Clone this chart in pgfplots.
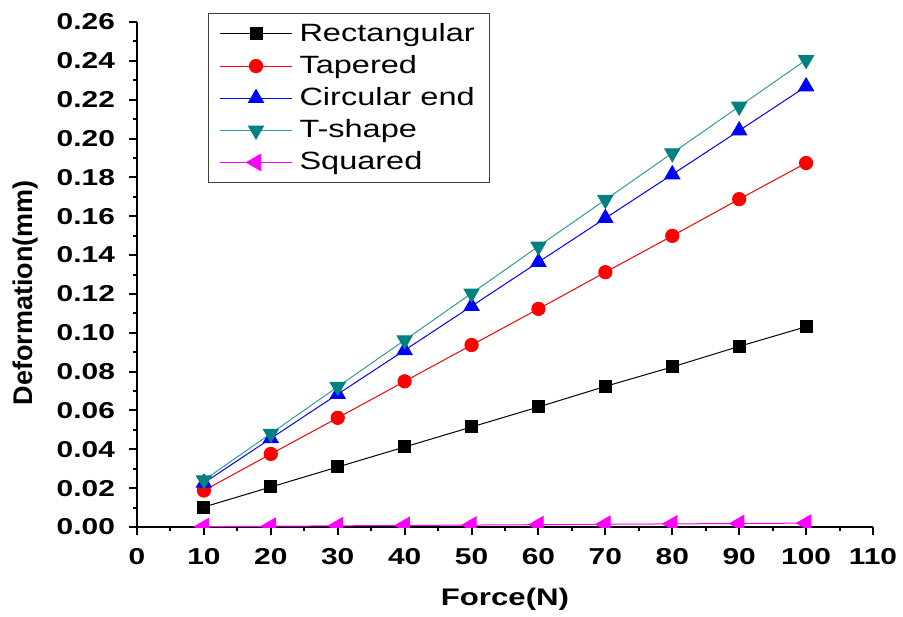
\documentclass[border=0pt]{standalone}
\usepackage{fontspec}
\setmainfont{Liberation Sans}[FakeStretch=1.3]
\newfontfamily\plainsans{Liberation Sans}
\usepackage{pgfplots}
\pgfplotsset{compat=1.18}

\definecolor{tealmk}{RGB}{0,128,128}
\definecolor{tealln}{RGB}{50,155,155}
\definecolor{magmk}{RGB}{255,0,255}

\begin{document}
\begin{tikzpicture}
\begin{axis}[
    name=ax,
    scale only axis,
    width=368pt, height=252.5pt,
    xmin=0, xmax=110, ymin=0, ymax=0.26,
    axis lines*=left,
    axis line style={line width=1pt},
    tick align=outside,
    major tick length=4pt, minor tick length=2pt,
    every tick/.style={black, line width=1pt},
    xtick={0,10,20,30,40,50,60,70,80,90,100,110},
    ytick={0,0.02,0.04,0.06,0.08,0.10,0.12,0.14,0.16,0.18,0.20,0.22,0.24,0.26},
    minor x tick num=1, minor y tick num=1,
    scaled y ticks=false,
    /pgf/number format/assume math mode=true,
    ticklabel style={font=\fontsize{11.5}{13}\selectfont\bfseries},
    xticklabel style={yshift=-3pt},
    yticklabel style={xshift=-3.5pt, /pgf/number format/.cd, fixed, fixed zerofill, precision=2},
    xlabel={Force(N)},
    ylabel={\plainsans Deformation(mm)},
    xlabel style={font=\fontsize{12}{14}\selectfont\bfseries, at={(axis description cs:0.5,0)}, anchor=center, yshift=-36pt},
    ylabel style={font=\fontsize{13.5}{15}\selectfont\bfseries, at={(axis description cs:0,0.464)}, anchor=center, yshift=55.7pt},
    clip marker paths=true,
    legend cell align=left,
    legend style={at={(rel axis cs:0.0965,1.018)}, anchor=north west,
        draw=darkgray, line width=0.5pt, font=\fontsize{12.5}{15}\selectfont,
        row sep=1.5pt, inner xsep=5.5pt, inner ysep=3pt},
    legend image code/.code={\draw[mark repeat=2, mark phase=2, #1] plot coordinates {(0pt,0pt) (18pt,0pt) (36pt,0pt)};
        \path (37.5pt,0pt);},
]
\addplot[black, line width=0.5pt, mark=square*, mark size=3pt, mark options={solid}] coordinates {
    (10,0.0103) (20,0.0206) (30,0.0309) (40,0.0412) (50,0.0515)
    (60,0.0618) (70,0.0724) (80,0.0824) (90,0.0930) (100,0.1031)
};
\addlegendentry{Rectangular}
\addplot[red, line width=0.5pt, mark=*, mark size=3.3pt] coordinates {
    (10,0.0188) (20,0.0376) (30,0.0562) (40,0.0750) (50,0.0937)
    (60,0.1123) (70,0.1312) (80,0.1499) (90,0.1688) (100,0.1874)
};
\addlegendentry{Tapered}
\addplot[blue, line width=0.5pt, mark=triangle*, mark size=4.3pt] coordinates {
    (10,0.0227) (20,0.0456) (30,0.0684) (40,0.0910) (50,0.1137)
    (60,0.1364) (70,0.1590) (80,0.1815) (90,0.2041) (100,0.2268)
};
\addlegendentry{Circular end}
\addplot[tealln, line width=0.5pt, mark=triangle*, mark size=4.3pt, mark options={fill=tealmk, draw=tealmk, rotate=180}] coordinates {
    (10,0.0241) (20,0.0481) (30,0.0722) (40,0.0962) (50,0.1203)
    (60,0.1445) (70,0.1685) (80,0.1925) (90,0.2165) (100,0.2405)
};
\addlegendentry{T-shape}
\addplot[magmk, line width=0.5pt, mark=triangle*, mark size=4.7pt, mark options={rotate=90}] coordinates {
    (10,0.0002) (20,0.0004) (30,0.0006) (40,0.0008) (50,0.0010)
    (60,0.0012) (70,0.0014) (80,0.0016) (90,0.0018) (100,0.0020)
};
\addlegendentry{Squared}
\end{axis}
\pgfresetboundingbox
\path (ax.south west) ++(-68.5pt,-44.5pt) rectangle ([shift={(15pt,11pt)}]ax.north east);
\end{tikzpicture}
\end{document}
